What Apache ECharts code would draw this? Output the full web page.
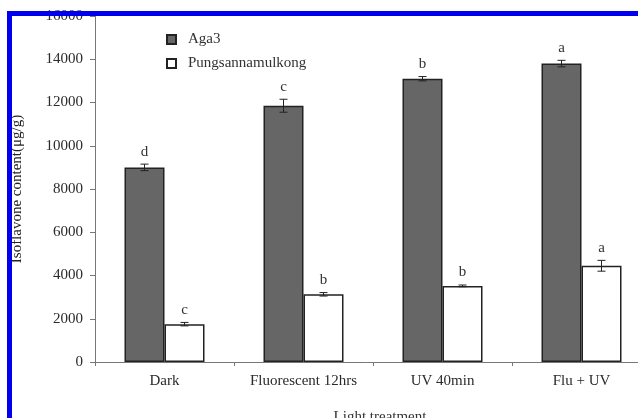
<!DOCTYPE html>
<html>
<head>
<meta charset="utf-8">
<script src="https://cdn.jsdelivr.net/npm/echarts@6/dist/echarts.min.js"></script>
<style>
  html, body { margin: 0; padding: 0; background: #fff; }
  #chart { width: 638px; height: 418px; }
</style>
</head>
<body>
<div id="chart"></div>
<script>
// Isoflavone content of two soybean cultivars under different light treatments
const categories = ['Dark', 'Fluorescent 12hrs', 'UV 40min', 'Flu + UV'];
const seriesNames = ['Aga3', 'Pungsannamulkong'];
const aga3Values = [9000, 11850, 13100, 13800];
const aga3Errors = [150, 300, 100, 150];
const aga3Letters = ['d', 'c', 'b', 'a'];
const pungValues = [1750, 3130, 3520, 4450];
const pungErrors = [80, 80, 40, 250];
const pungLetters = ['c', 'b', 'b', 'a'];
const yTicks = [0, 2000, 4000, 6000, 8000, 10000, 12000, 14000, 16000];

const FONT = '"Liberation Serif", "DejaVu Serif", serif';
const BAR_W = 40;

function errorSeries(values, errors, letters, offset) {
  return {
    type: 'custom',
    z: 5,
    silent: true,
    data: values.map((v, i) => [i, v, errors[i], letters[i]]),
    renderItem: function (params, api) {
      const i = api.value(0);
      const v = api.value(1);
      const e = api.value(2);
      const top = api.coord([i, v + e]);
      const bot = api.coord([i, v - e]);
      const x = top[0] + offset;
      const cap = 4;
      const style = { stroke: '#222', lineWidth: 1 };
      return {
        type: 'group',
        children: [
          { type: 'line', shape: { x1: x, y1: top[1], x2: x, y2: bot[1] }, style },
          { type: 'line', shape: { x1: x - cap, y1: top[1], x2: x + cap, y2: top[1] }, style },
          { type: 'line', shape: { x1: x - cap, y1: bot[1], x2: x + cap, y2: bot[1] }, style },
          {
            type: 'text',
            style: {
              text: letters[i],
              x: x,
              y: top[1] - 5,
              textAlign: 'center',
              textVerticalAlign: 'bottom',
              font: '15px ' + FONT,
              fill: '#333'
            }
          }
        ]
      };
    }
  };
}

const chart = echarts.init(document.getElementById('chart'));
chart.setOption({
  animation: false,
  backgroundColor: '#fff',
  grid: { left: 95, top: 16, width: 556, height: 346, outerBoundsMode: 'none', containLabel: false },
  legend: {
    orient: 'vertical',
    left: 161,
    top: 27,
    itemWidth: 9,
    itemHeight: 9,
    itemGap: 9,
    textStyle: { fontFamily: FONT, fontSize: 15, color: '#333', padding: [0, 0, 0, 7] },
    data: seriesNames.map(n => ({ name: n, icon: 'rect' }))
  },
  xAxis: {
    type: 'category',
    data: categories,
    boundaryGap: true,
    name: 'Light treatment',
    nameLocation: 'middle',
    nameGap: 48,
    nameTextStyle: { fontFamily: FONT, fontSize: 15, color: '#333', padding: [0, 0, 0, 14] },
    axisLine: { lineStyle: { color: '#777', width: 1 } },
    axisTick: { show: true, length: 4, lineStyle: { color: '#777' } },
    axisLabel: {
      interval: 0, hideOverlap: false,
      fontFamily: FONT, fontSize: 15, color: '#2a2a2a', margin: 12
    }
  },
  yAxis: {
    type: 'value',
    min: 0,
    max: 16000,
    interval: 2000,
    name: 'Isoflavone content(μg/g)',
    nameLocation: 'middle',
    nameGap: 70,
    nameTextStyle: { fontFamily: FONT, fontSize: 15, color: '#222' },
    splitLine: { show: false },
    axisLine: { show: true, lineStyle: { color: '#777', width: 1 } },
    axisTick: { show: true, length: 5, lineStyle: { color: '#777' } },
    axisLabel: {
      fontFamily: FONT, fontSize: 15, color: '#2a2a2a', margin: 12,
      formatter: v => (yTicks.includes(v) ? String(v) : '')
    }
  },
  series: [
    {
      name: seriesNames[0],
      type: 'bar',
      barWidth: BAR_W,
      barGap: '0%',
      data: aga3Values,
      itemStyle: { color: '#666666', borderColor: '#222', borderWidth: 1.5 }
    },
    {
      name: seriesNames[1],
      type: 'bar',
      barWidth: BAR_W,
      barGap: '0%',
      data: pungValues,
      itemStyle: { color: '#ffffff', borderColor: '#222', borderWidth: 1.5 }
    },
    errorSeries(aga3Values, aga3Errors, aga3Letters, -BAR_W / 2),
    errorSeries(pungValues, pungErrors, pungLetters, BAR_W / 2)
  ],
  graphic: [
    { type: 'rect', z: 100, shape: { x: 7, y: 11, width: 5, height: 407 }, style: { fill: '#0000ee' } },
    { type: 'rect', z: 100, shape: { x: 7, y: 11, width: 631, height: 5 }, style: { fill: '#0000ee' } }
  ]
});
</script>
</body>
</html>
